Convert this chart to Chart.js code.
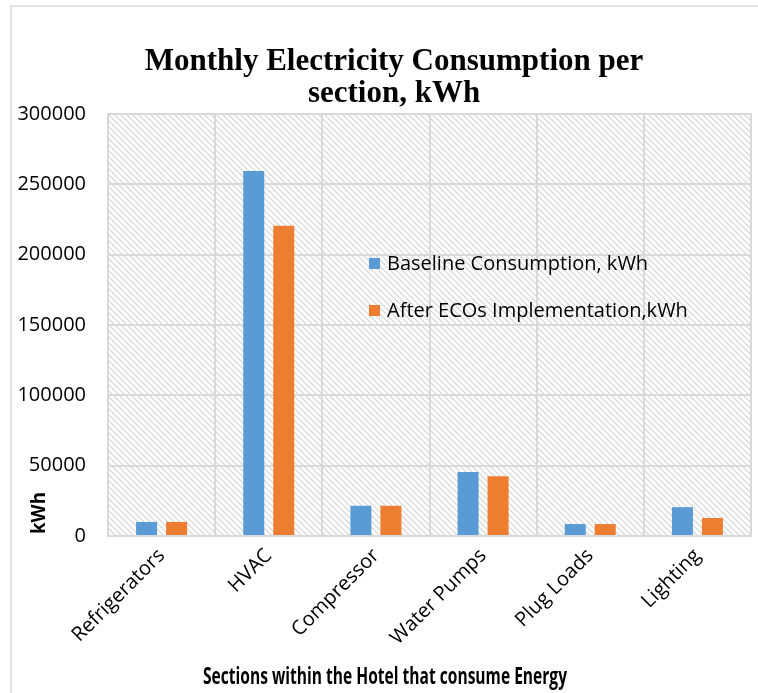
<!DOCTYPE html>
<html lang="en">
<head>
    <meta charset="UTF-8">
    <title>Monthly Electricity Consumption per section, kWh</title>
    <script src="https://cdn.jsdelivr.net/npm/chart.js"></script>
    <style>
        body { margin: 0; overflow: hidden; background: #fff; }
        canvas { display: block; }
    </style>
</head>
<body>
<canvas id="consumptionChart" width="758" height="693"></canvas>

<script>
    // data
    const categories = ['Refrigerators', 'HVAC', 'Compressor', 'Water Pumps', 'Plug Loads', 'Lighting'];
    const baselineKwh = [10000, 259500, 21500, 45500, 8500, 20500];
    const afterEcosKwh = [10000, 220500, 21500, 42500, 8500, 12800];
    const seriesNames = ['Baseline Consumption, kWh', 'After ECOs Implementation,kWh'];
    const yMin = 0;
    const yMax = 300000;
    const yStep = 50000;

    const titleLines = ['Monthly Electricity Consumption per', 'section, kWh'];
    const xTitle = 'Sections within the Hotel that consume Energy';
    const yTitle = 'kWh';

    const gridGray = '#d9d9d9';

    // diagonal hatch used as plot background
    function makeHatch() {
        const c = document.createElement('canvas');
        c.width = 6;
        c.height = 6;
        const g = c.getContext('2d');
        g.strokeStyle = '#d4d4d4';
        g.lineWidth = 1.2;
        g.beginPath();
        g.moveTo(-1, -1); g.lineTo(7, 7);
        g.moveTo(-1, 5); g.lineTo(1, 7);
        g.moveTo(5, -1); g.lineTo(7, 1);
        g.stroke();
        return g.createPattern(c, 'repeat');
    }

    const decorPlugin = {
        id: 'decor',
        beforeDraw(chart) {
            const ctx = chart.ctx;
            const a = chart.chartArea;
            ctx.save();
            // outer frame
            ctx.strokeStyle = '#e2e2e2';
            ctx.lineWidth = 2;
            ctx.strokeRect(11, 6, 900, 900);
            // hatched plot area
            ctx.fillStyle = makeHatch();
            ctx.fillRect(a.left, a.top, a.right - a.left, a.bottom - a.top);
            ctx.restore();
        },
        afterDatasetsDraw(chart) {
            const ctx = chart.ctx;
            const a = chart.chartArea;
            ctx.save();
            ctx.strokeStyle = gridGray;
            ctx.lineWidth = 2;
            ctx.strokeRect(a.left, a.top, a.right - a.left, a.bottom - a.top);

            // legend inside the plot
            ctx.font = '20px "Open Sans"';
            ctx.textBaseline = 'middle';
            ctx.textAlign = 'left';
            const legendY = [264, 311];
            chart.data.datasets.forEach((ds, i) => {
                ctx.fillStyle = ds.backgroundColor;
                ctx.fillRect(369, legendY[i] - 6, 11, 11);
                ctx.fillStyle = '#000';
                ctx.fillText(ds.label, 387, legendY[i], i === 0 ? 265 : 311);
            });

            // chart title
            ctx.textAlign = 'center';
            ctx.textBaseline = 'alphabetic';
            ctx.font = 'bold 31px "Liberation Serif"';
            ctx.fillText(titleLines[0], 394, 70, 502);
            ctx.fillText(titleLines[1], 394, 102);

            // x axis title
            ctx.font = 'bold 23px "Open Sans"';
            ctx.fillText(xTitle, 385, 684, 364);

            // y axis title, near the bottom
            ctx.translate(45, 534);
            ctx.rotate(-Math.PI / 2);
            ctx.textAlign = 'left';
            ctx.font = 'bold 19px "Open Sans"';
            ctx.fillText(yTitle, 0, 0, 42);
            ctx.restore();
        }
    };

    const chartConfig = {
        type: 'bar',
        data: {
            labels: categories,
            datasets: [{
                label: seriesNames[0],
                data: baselineKwh,
                backgroundColor: '#5b9bd5'
            }, {
                label: seriesNames[1],
                data: afterEcosKwh,
                backgroundColor: '#ed7d31'
            }]
        },
        options: {
            responsive: false,
            animation: false,
            categoryPercentage: 0.56,
            barPercentage: 0.7,
            layout: {
                padding: { top: 114, right: 7, left: 0, bottom: 0 }
            },
            plugins: {
                legend: { display: false },
                title: { display: false },
                tooltip: { enabled: false }
            },
            scales: {
                x: {
                    grid: { color: gridGray, lineWidth: 2, drawTicks: false },
                    border: { color: gridGray, width: 2 },
                    ticks: {
                        color: '#000',
                        font: { family: 'Open Sans', size: 20 },
                        minRotation: 45,
                        maxRotation: 45,
                        padding: 8
                    },
                    afterFit(scale) { scale.height = 157; }
                },
                y: {
                    min: yMin,
                    max: yMax,
                    grid: { color: gridGray, lineWidth: 2, drawTicks: false },
                    border: { color: gridGray, width: 2 },
                    ticks: {
                        stepSize: yStep,
                        color: '#000',
                        font: { family: 'Open Sans', size: 20 },
                        padding: 22,
                        callback: value => String(value)
                    },
                    afterFit(scale) { scale.width = 108; }
                }
            }
        },
        plugins: [decorPlugin]
    };

    const chartCanvas = document.getElementById('consumptionChart');
    const consumptionChart = new Chart(chartCanvas.getContext('2d'), chartConfig);
</script>
</body>
</html>
